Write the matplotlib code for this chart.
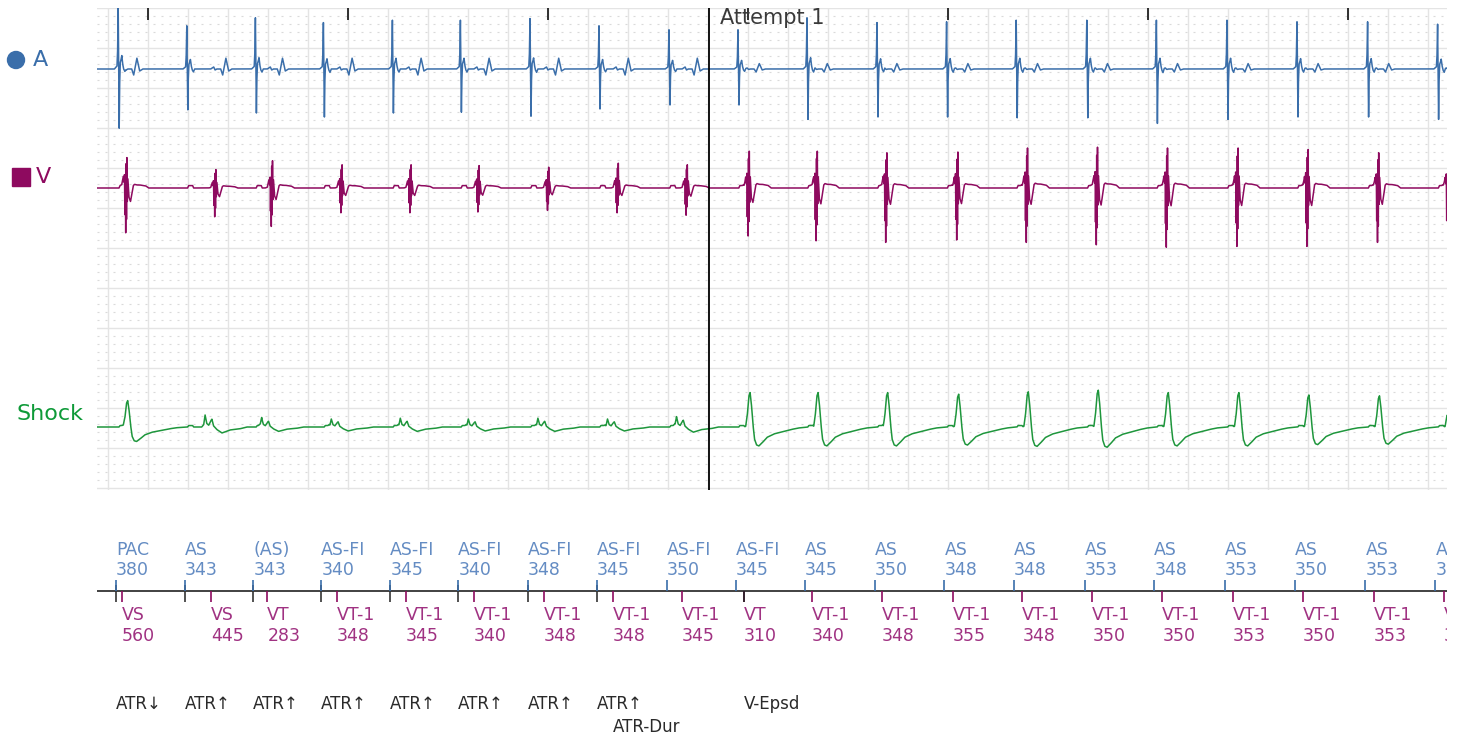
import numpy as np
import matplotlib
matplotlib.use("Agg")
import matplotlib.pyplot as plt
from matplotlib.patches import Ellipse, Rectangle

# ---- marker channel ----
a_names = ["PAC", "AS", "(AS)", "AS-FI", "AS-FI", "AS-FI", "AS-FI", "AS-FI", "AS-FI", "AS-FI",
           "AS", "AS", "AS", "AS", "AS", "AS", "AS", "AS", "AS", "AS"]
a_ms = [380, 343, 343, 340, 345, 340, 348, 345, 350, 345,
        345, 350, 348, 348, 353, 348, 353, 350, 353, 350]
v_names = ["VS", "VS", "VT", "VT-1", "VT-1", "VT-1", "VT-1", "VT-1", "VT-1", "VT",
           "VT-1", "VT-1", "VT-1", "VT-1", "VT-1", "VT-1", "VT-1", "VT-1", "VT-1", "VT-1"]
v_ms = [560, 445, 283, 348, 345, 340, 348, 348, 345, 310,
        340, 348, 355, 348, 350, 350, 353, 350, 353, 350]
a_first = -0.160    # s, first A marker (t=0 at first second tick)
v_first = -0.1315
atr_marks = ["ATR↓", "ATR↑", "ATR↑", "ATR↑", "ATR↑", "ATR↑", "ATR↑", "ATR↑"]  # on first A markers
atr_dur_beat = 7    # V beat carrying ATR-Dur
v_epsd_beat = 9     # V beat carrying V-Epsd
attempt_t = 2.805
attempt_label = "Attempt 1"

# ---- per beat amplitudes (mm) ----
a_up = [7.6, 5.4, 6.4, 5.8, 6.1, 6.1, 6.3, 5.4, 4.9, 4.9, 6.4, 5.8, 5.9, 6.1, 6.1, 6.1, 6.1, 5.9, 5.9, 5.6]
a_dn = [7.4, 5.1, 5.5, 6.0, 5.5, 5.4, 5.9, 5.0, 4.5, 4.5, 6.3, 6.0, 6.0, 6.1, 6.1, 6.8, 6.3, 6.0, 6.0, 6.3]
v_up = [3.8, 2.3, 3.4, 2.9, 2.9, 2.8, 2.6, 3.1, 2.9, 4.6, 4.6, 4.4, 4.5, 5.0, 5.1, 5.0, 5.0, 4.8, 4.4, 4.4]
v_dn = [5.6, 3.6, 4.8, 3.1, 3.1, 3.0, 2.8, 3.1, 3.4, 6.0, 6.6, 6.8, 6.5, 6.8, 7.1, 7.4, 7.3, 7.3, 6.8, 6.8]
shock_amp = [3.3, 1.5, 1.1, 1.0, 1.1, 1.0, 1.1, 1.0, 1.3, 4.3, 4.3, 4.3, 4.1, 4.4, 4.6, 4.3, 4.3, 4.0, 3.9, 3.4]
shock_kind = ["big"] + ["small"] * 8 + ["big"] * 11
a_ffv_gain = [1.0] * 9 + [0.5] * 11

# ---- beat shapes (ms, normalised) ----
A_T = [-8, 0, 5, 8, 11, 13, 16, 18, 21, 25, 29, 33, 38, 44, 50, 56]
A_Y = [0, 0.03, 0.05, 0.3, 1.0, 0.2, -1.0, -0.3, 0.1, 0.15, 0.22, 0.08, -0.02, -0.07, 0, 0]
V_T = [-10, 0, 8, 12, 14, 16, 18, 20, 22, 24, 26, 28, 31, 36, 44, 52, 58, 64, 75, 90, 120, 135]
V_Y = [0, 0.03, 0.3, 0.12, 0.4, -0.6, 0.3, -1.0, 0.8, -0.7, 1.0, -0.3, 0.3, -0.2, -0.3, -0.1,
       0.08, 0.12, 0.1, 0.1, 0.07, 0]
FFV_T = [0, 15, 22, 30, 50, 60, 76, 90, 105]          # far-field V on the A lead (mm)
FFV_Y = [0, 0.25, -0.12, 0, 0, -0.75, 1.35, -0.25, 0]
FFA_T = [15, 20, 40, 45]                              # far-field A on V / shock leads (mm)
FFA_Y = [0, 0.3, 0.3, 0]
SB_T = [0, 8, 16, 24, 30, 36, 44, 52, 62, 74, 92, 115, 150, 190, 230, 270, 320]
SB_Y = [0, 0.02, 0.35, 0.9, 1.0, 0.7, 0.1, -0.35, -0.52, -0.55, -0.45, -0.3, -0.2, -0.14, -0.08, -0.03, 0]
SS_T = [-45, -35, -28, -20, -10, 0, 6, 14, 30, 56, 96, 146, 180]
SS_Y = [0, 0.2, 1.0, 0.3, 0.15, 0.5, 0.65, 0.1, -0.2, -0.5, -0.25, -0.15, 0]

A_COL, V_COL, S_COL = "#3a6eaa", "#8e0a5f", "#1e963c"
A_TXT, V_TXT = "#648cc3", "#a03282"
GRID, GRID2 = "#e4e4e4", "#dadada"

W, H = 1462, 745
def fx(px): return px / W
def fy(py): return 1 - py / H

T0, T1 = (97 - 148) / 200, (1447 - 148) / 200
a_times = a_first + np.concatenate([[0], np.cumsum(a_ms[1:])]) / 1000
v_times = v_first + np.concatenate([[0], np.cumsum(v_ms[1:])]) / 1000

t = np.arange(T0, T1, 0.0005)

def place(times, tt, yy, up, dn=None):
    sig = np.zeros_like(t)
    tt = np.asarray(tt) / 1000.0
    yy = np.asarray(yy, dtype=float)
    for k, t0 in enumerate(times):
        u = up[k] if np.ndim(up) else up
        d = dn[k] if dn is not None else u
        y = np.where(yy > 0, yy * u, yy * d)
        sig += np.interp(t, t0 + tt, y, left=0, right=0)
    return sig

a_sig = place(a_times, A_T, A_Y, a_up, a_dn) + place(v_times, FFV_T, FFV_Y, a_ffv_gain)
v_sig = place(v_times, V_T, V_Y, v_up, v_dn) + place(a_times, FFA_T, FFA_Y, 1.0)
big = [s if k == "big" else 0 for s, k in zip(shock_amp, shock_kind)]
small = [s if k == "small" else 0 for s, k in zip(shock_amp, shock_kind)]
s_sig = (place(v_times, SB_T, SB_Y, big) + place(v_times, SS_T, SS_Y, small)
         + place(a_times, FFA_T, FFA_Y, 0.6))

fig = plt.figure(figsize=(W / 100, H / 100), dpi=100, facecolor="white")
ax = fig.add_axes([fx(97), fy(490), fx(1447) - fx(97), fy(8) - fy(490)])
ax.set_xlim(T0, T1)
ax.set_ylim(-0.25, 60)
ax.axis("off")

# ECG paper: 5 mm / 0.2 s major, 1 mm dotted rows
for xv in np.arange(-0.2, T1, 0.2):
    ax.axvline(xv, color=GRID, lw=1, zorder=0)
for mm in range(0, 61):
    if mm % 5 == 0:
        ax.axhline(mm, color=GRID, lw=1, zorder=0)
    else:
        ax.axhline(mm, color=GRID2, lw=0.8, ls=(0, (1.8, 5.4)), zorder=0)
ax.vlines(np.arange(0, 7), 58.5, 60, color="#222222", lw=1.3)

ax.plot(t, 52.375 + a_sig, color=A_COL, lw=1.1)
ax.plot(t, 37.5 + v_sig, color=V_COL, lw=1.1)
ax.plot(t, 7.625 + s_sig, color=S_COL, lw=1.1)

ax.axvline(attempt_t, color="black", lw=1.3)
ax.text(2.86, 58.0, attempt_label, fontsize=15, color="#3a3a3a", va="baseline", ha="left")

# channel names
fig.add_artist(Ellipse((fx(16), fy(60)), 17 / W, 17 / H, transform=fig.transFigure, color=A_COL))
fig.text(fx(33), fy(60), "A", fontsize=16, color=A_COL, va="center", ha="left")
fig.add_artist(Rectangle((fx(12), fy(186)), 18 / W, 18 / H, transform=fig.transFigure, color=V_COL))
fig.text(fx(36), fy(177), "V", fontsize=16, color=V_COL, va="center", ha="left")
fig.text(fx(17), fy(414), "Shock", fontsize=16, color="#0e9a38", va="center", ha="left")

# marker channel
mk = fig.add_axes([fx(97), fy(745), fx(1447) - fx(97), fy(530) - fy(745)])
mk.set_xlim(T0, T1)
mk.set_ylim(745, 530)
mk.axis("off")
mk.hlines(591, T0, T1, color="#333333", lw=1.3)
mk.vlines(a_times[:len(atr_marks)], 585, 602, color="#333333", lw=1.2)
mk.vlines(a_times, 580, 591, color=A_COL, lw=1.2)
mk.vlines(v_times, 591, 602, color=V_COL, lw=1.2)
mk.vlines(v_times[v_epsd_beat], 591, 602, color="#222222", lw=1.2)

# labels cut at the strip's right edge, as on the device printout
lab = dict(fontsize=12.5, ha="left", va="center", clip_on=True)
for tm, n, ms in zip(a_times, a_names, a_ms):
    mk.text(tm, 550, n, color=A_TXT, **lab)
    mk.text(tm, 570, str(ms), color=A_TXT, **lab)
for tm, n, ms in zip(v_times, v_names, v_ms):
    mk.text(tm, 615, n, color=V_TXT, **lab)
    mk.text(tm, 636, str(ms), color=V_TXT, **lab)

ev = dict(fontsize=12, ha="left", va="center", color="#2a2a2a")
for tm, n in zip(a_times, atr_marks):
    mk.text(tm, 704, n, **ev)
mk.text(v_times[atr_dur_beat], 727, "ATR-Dur", **ev)
mk.text(v_times[v_epsd_beat], 704, "V-Epsd", **ev)

fig.savefig("out.png", dpi=100, facecolor="white")
